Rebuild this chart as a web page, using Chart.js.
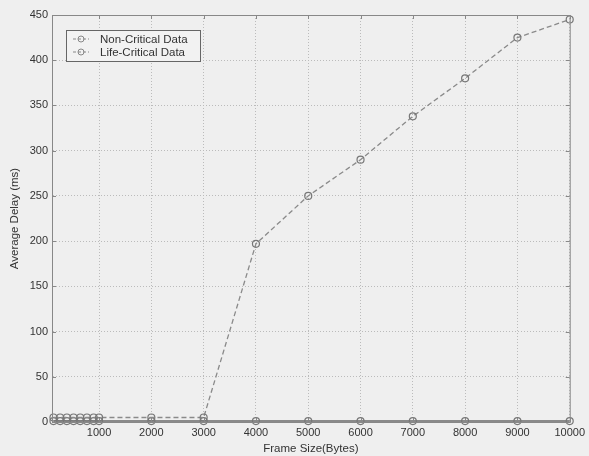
<!DOCTYPE html>
<html>
<head>
<meta charset="utf-8">
<script src="https://cdn.jsdelivr.net/npm/chart.js@4"></script>
<style>
  html, body { margin: 0; padding: 0; background: #efefef; }
  #wrap { width: 589px; height: 456px; }
</style>
</head>
<body>
<div id="wrap"><canvas id="c" width="589" height="456"></canvas></div>
<script>
// data
const frameSizes = [128, 256, 384, 512, 640, 768, 896, 1000, 2000, 3000, 4000, 5000, 6000, 7000, 8000, 9000, 10000];
const nonCritical = [5, 5, 5, 5, 5, 5, 5, 5, 5, 5, 197, 250, 290, 338, 380, 425, 445];
const lifeCritical = [1, 1, 1, 1, 1, 1, 1, 1, 1, 1, 1, 1, 1, 1, 1, 1, 1];
const xTicks = [1000, 2000, 3000, 4000, 5000, 6000, 7000, 8000, 9000, 10000];
const seriesNames = ["Non-Critical Data", "Life-Critical Data"];

const FONT = "'Liberation Sans', Arial, sans-serif";
const toPoints = ys => frameSizes.map((x, i) => ({ x: x, y: ys[i] }));

// box + inner tick marks + legend inside the plot
const frame = {
  id: "frame",
  beforeDraw(chart) {
    const c = chart.ctx;
    c.save();
    c.fillStyle = "#efefef";
    c.fillRect(0, 0, chart.width, chart.height);
    c.restore();
  },
  afterDraw(chart) {
    const c = chart.ctx, a = chart.chartArea;
    const xs = chart.scales.x, ys = chart.scales.y;
    c.save();
    c.strokeStyle = "#888";
    c.lineWidth = 1;
    c.strokeRect(a.left + 0.5, a.top + 0.5, a.right - a.left, a.bottom - a.top);
    c.beginPath();
    xs.ticks.forEach(t => {
      const px = Math.round(xs.getPixelForValue(t.value)) + 0.5;
      c.moveTo(px, a.top); c.lineTo(px, a.top + 4);
      c.moveTo(px, a.bottom); c.lineTo(px, a.bottom - 4);
    });
    ys.ticks.forEach(t => {
      const py = Math.round(ys.getPixelForValue(t.value)) + 0.5;
      c.moveTo(a.left, py); c.lineTo(a.left + 4, py);
      c.moveTo(a.right, py); c.lineTo(a.right - 4, py);
    });
    c.stroke();

    // legend
    const lx = 66, ly = 30, lw = 134, lh = 31;
    c.fillStyle = "#f2f2f2";
    c.fillRect(lx, ly, lw, lh);
    c.strokeStyle = "#666";
    c.strokeRect(lx + 0.5, ly + 0.5, lw, lh);
    c.font = "11.5px " + FONT;
    c.textBaseline = "middle";
    seriesNames.forEach((name, i) => {
      const yy = ly + 9 + i * 13;
      c.strokeStyle = "#888";
      c.setLineDash([3, 2]);
      c.beginPath();
      c.moveTo(lx + 7, yy); c.lineTo(lx + 23, yy);
      c.stroke();
      c.setLineDash([]);
      c.beginPath();
      c.arc(lx + 15, yy, 3, 0, Math.PI * 2);
      c.stroke();
      c.fillStyle = "#333";
      c.fillText(name, lx + 34, yy + 0.5);
    });
    c.restore();
  }
};

new Chart(document.getElementById("c"), {
  type: "line",
  data: {
    datasets: [
      {
        label: seriesNames[0],
        data: toPoints(nonCritical),
        borderColor: "#8a8a8a",
        borderWidth: 1.3,
        borderDash: [5, 3],
        pointRadius: 3.5,
        pointBorderColor: "#777",
        pointBackgroundColor: "rgba(0,0,0,0)",
        pointBorderWidth: 1.2,
        tension: 0
      },
      {
        label: seriesNames[1],
        data: toPoints(lifeCritical),
        borderColor: "#8a8a8a",
        borderWidth: 2,
        pointRadius: 3.5,
        pointBorderColor: "#777",
        pointBackgroundColor: "rgba(0,0,0,0)",
        pointBorderWidth: 1.2,
        tension: 0
      }
    ]
  },
  options: {
    responsive: false,
    animation: false,
    clip: false,
    layout: { padding: { top: 15, right: 18, left: 0, bottom: 0 } },
    plugins: { legend: { display: false }, tooltip: { enabled: false } },
    scales: {
      x: {
        type: "linear",
        min: 100,
        max: 10000,
        afterBuildTicks: s => { s.ticks = xTicks.map(v => ({ value: v })); },
        afterFit: s => { s.height = 34; },
        grid: { color: "#bbb", drawTicks: false, lineWidth: 1 },
        border: { color: "#888", dash: [1, 2] },
        ticks: {
          color: "#333",
          padding: 4,
          maxRotation: 0,
          autoSkip: false,
          font: { family: FONT, size: 11 },
          callback: v => String(v)
        },
        title: {
          display: true,
          text: "Frame Size(Bytes)",
          color: "#333",
          padding: { top: 0, bottom: 0 },
          font: { family: FONT, size: 11.5 }
        }
      },
      y: {
        min: 0,
        max: 450,
        afterFit: s => { s.width = 52; },
        grid: { color: "#bbb", drawTicks: false, lineWidth: 1 },
        border: { color: "#888", dash: [1, 2] },
        ticks: {
          stepSize: 50,
          color: "#333",
          padding: 4,
          font: { family: FONT, size: 11 }
        },
        title: {
          display: true,
          text: "Average Delay (ms)",
          color: "#333",
          padding: { top: 8, bottom: 0 },
          font: { family: FONT, size: 11.5 }
        }
      }
    }
  },
  plugins: [frame]
});
</script>
</body>
</html>
